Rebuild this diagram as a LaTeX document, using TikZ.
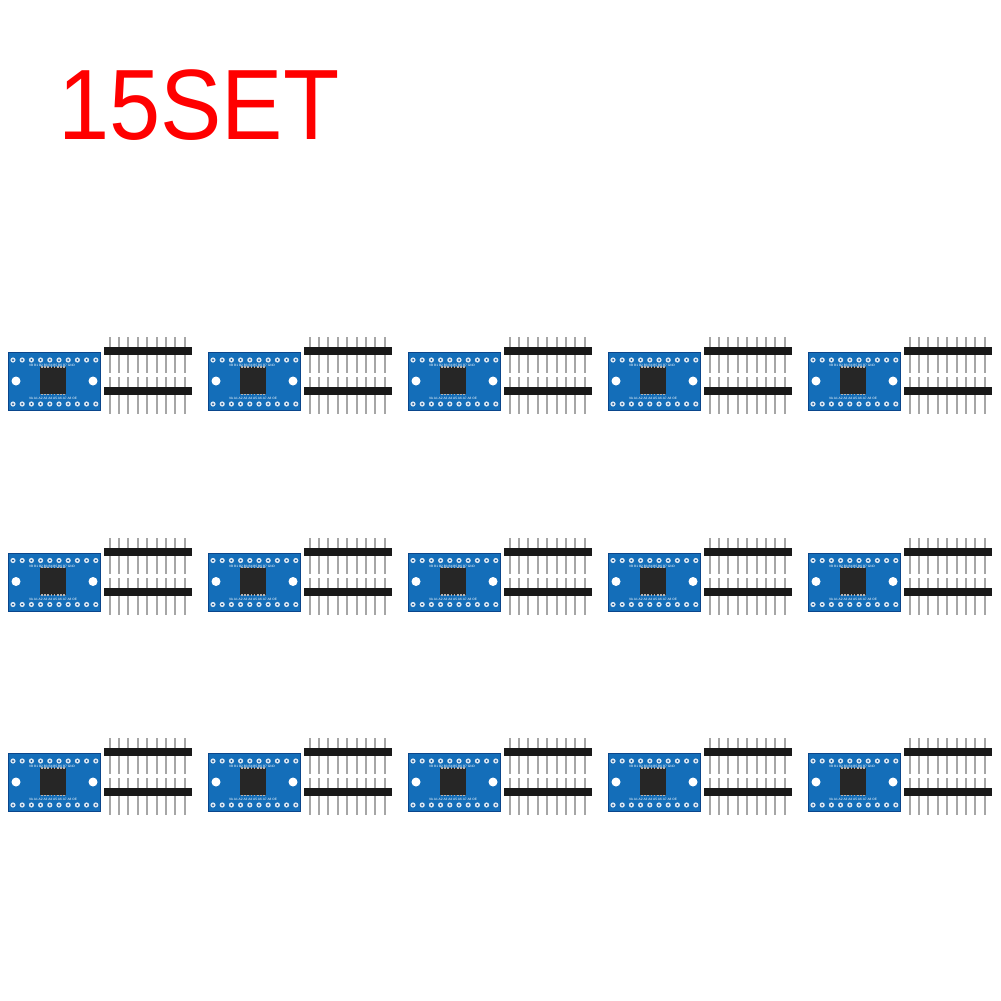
\documentclass[tikz,border=0pt]{standalone}
\usepackage{fontspec}
\setmainfont{Liberation Sans}
\definecolor{pcb}{RGB}{20,110,185}
\definecolor{pcbd}{RGB}{10,70,140}
\tikzset{
  board/.style={fill=pcb,draw=pcbd,line width=0.6pt},
  pad/.style={fill=white!85!pcb,draw=none},
  pin/.style={fill=gray!70,draw=none},
  bar/.style={fill=black!90,draw=none},
  silk/.style={font=\fontsize{3.2}{3.2}\selectfont,text=white,inner sep=0pt}
}
\newcommand{\module}[3]{%
\begin{scope}[shift={(#1,#2)}]
  \node[board,minimum width=92pt,minimum height=58pt,inner sep=0pt,anchor=north west] (b#3) at (8,352) {};
  \foreach \i in {0,...,9}{
    \fill[pad] (13+\i*9.2,360) circle (2.6);
    \fill[pcbd] (13+\i*9.2,360) circle (1.0);
    \fill[pad] (13+\i*9.2,404) circle (2.6);
    \fill[pcbd] (13+\i*9.2,404) circle (1.0);
  }
  \fill[white] (16,381) circle (4.5);
  \fill[white] (93,381) circle (4.5);
  \fill[black!85] (40,367) rectangle (66,394);
  \foreach \j in {0,...,7}{\fill[gray!60] (41+\j*3.2,366) rectangle (42.5+\j*3.2,367.5);\fill[gray!60] (41+\j*3.2,393.5) rectangle (42.5+\j*3.2,395);}
  \node[silk] (t#3) at (52,365.5) {VB B1 B2 B3 B4 B5 B6 B7 GND};
  \node[silk] (u#3) at (53,398.5) {VA A1 A2 A3 A4 A5 A6 A7 A8 OE};
  \foreach \k in {0,...,8}{
    \fill[pin] (108.5+\k*9.4,337) rectangle (110.5+\k*9.4,373);
    \fill[pin] (108.5+\k*9.4,377) rectangle (110.5+\k*9.4,414);
  }
  \node[bar,minimum width=88pt,minimum height=8pt,inner sep=0pt,anchor=north west] (h#3) at (104,347) {};
  \node[bar,minimum width=88pt,minimum height=8pt,inner sep=0pt,anchor=north west] (g#3) at (104,387) {};
\end{scope}}
\begin{document}
\begin{tikzpicture}[x=1pt,y=-1pt]
\useasboundingbox (0,0) rectangle (1001,1001);
\fill[white] (0,0) rectangle (1001,1001);
\node[text=red,font=\fontsize{100}{100}\selectfont,inner sep=0pt,anchor=base west] (title) at (58,139) {\scalebox{0.92}[1]{15SET}};
\foreach \r in {0,1,2}{
  \foreach \c in {0,...,4}{
    \module{\c*200}{\r*200.5}{\r\c}
  }
}
\end{tikzpicture}
\end{document}
